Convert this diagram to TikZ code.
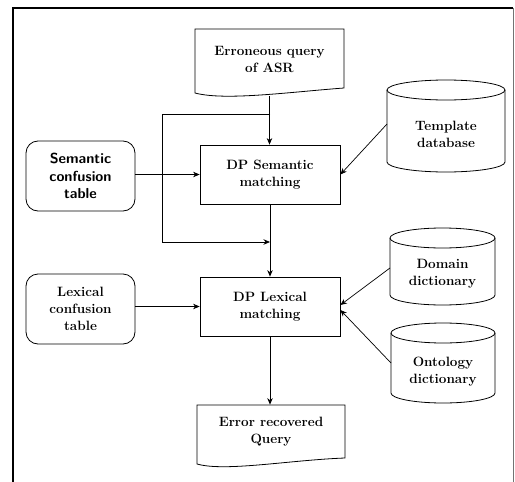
\documentclass[tikz,border=0pt]{standalone}
\usetikzlibrary{arrows.meta}
\begin{document}
\begin{tikzpicture}[x=1pt,y=-1pt,
  font=\fontsize{13.5}{17}\selectfont\bfseries,
  line width=0.8pt,
  box/.style={draw, minimum width=140pt, minimum height=59pt, align=center, inner sep=0pt},
  conf/.style={draw, rounded corners=12pt, minimum width=109pt, minimum height=70pt, align=center, inner sep=0pt},
  plain/.style={align=center, inner sep=0pt},
  arr/.style={-{Stealth[length=6.5pt,width=5.5pt]}, line width=0.7pt},
  shape line/.style={line width=0.8pt},
]
\useasboundingbox (0,0) rectangle (515,482);
% frame
\draw[line width=1.6pt] (13,482) -- (13,8) -- (513,8);
\draw[line width=0.6pt, black!55] (513,8) -- (513,482);

% input document
\node[plain, minimum width=149pt, minimum height=60pt] (q) at (269.5,59) {Erroneous query\\of ASR};
\draw[shape line] (195,29) -- (344,29) -- (344,88) .. controls (290,92) and (225,101) .. (195,93) -- cycle;

% processing boxes
\node[box] (sem) at (270,174.5) {DP Semantic\\matching};
\node[box] (lex) at (270,306.5) {DP Lexical\\matching};

% confusion tables
\node[conf, font=\fontsize{14.5}{17.5}\selectfont\sffamily\bfseries] (sc) at (80.5,176) {Semantic\\confusion\\table};
\node[conf] (lc) at (80.5,309) {Lexical\\confusion\\table};

% template database cylinder
\draw[shape line] (446,90) ellipse [x radius=59pt, y radius=10pt];
\draw[shape line] (387,90) -- (387,162) arc[start angle=180, end angle=360, x radius=59pt, y radius=10pt] -- (505,90);
\node[plain] (tmpl) at (446,134) {Template\\database};
\coordinate (tA) at (387,124);

% domain dictionary cylinder
\draw[shape line] (442.5,238) ellipse [x radius=52.5pt, y radius=10pt];
\draw[shape line] (390,238) -- (390,295) arc[start angle=180, end angle=360, x radius=52.5pt, y radius=10pt] -- (495,238);
\node[plain] (dom) at (442.5,274) {Domain\\dictionary};
\coordinate (dA) at (390,268);

% ontology dictionary cylinder
\draw[shape line] (443,333) ellipse [x radius=52pt, y radius=10pt];
\draw[shape line] (391,333) -- (391,393) arc[start angle=180, end angle=360, x radius=52pt, y radius=10pt] -- (495,333);
\node[plain] (ont) at (443,372) {Ontology\\dictionary};
\coordinate (oA) at (391,363);

% output document
\node[plain, minimum width=148pt, minimum height=54pt] (out) at (271,432) {Error recovered\\Query};
\draw[shape line] (197,405) -- (345,405) -- (345,458) .. controls (290,460) and (225,472) .. (197,464) -- cycle;

% connectors
\coordinate (j1) at (270,114);
\coordinate (j2) at (270,242);
\draw[arr] ([yshift=-7pt]q.south) -- (q.south |- sem.north);
\draw[arr] (j1) -- (162,114) -- (162,242) -- (j2);
\draw[arr] (sc.east |- sem.west) -- (sem.west);
\draw[arr] (tA) -- (sem.east);
\draw[arr] (sem.south) -- (lex.north);
\draw[arr] (lc.east |- lex.west) -- (lex.west);
\draw[arr] (dA) -- ([yshift=1.5pt]lex.east);
\draw[arr] (oA) -- ([yshift=-3.5pt]lex.east);
\draw[arr] (lex.south) -- (lex.south |- out.north);
\end{tikzpicture}
\end{document}
